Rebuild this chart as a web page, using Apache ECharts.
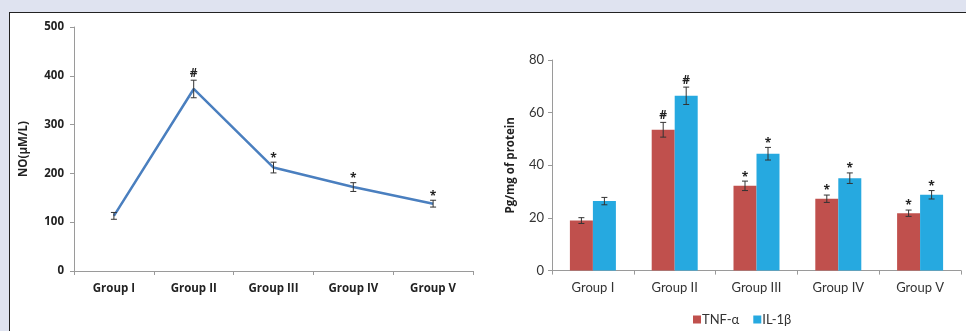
<!DOCTYPE html>
<html><head><meta charset="utf-8">
<script src="https://cdn.jsdelivr.net/npm/echarts@6/dist/echarts.min.js"></script>
<style>
html,body{margin:0;padding:0;width:966px;height:331px;overflow:hidden;background:#dfe3f0;}
#box{position:absolute;left:9px;top:12px;width:980px;height:340px;background:#fff;border:1.5px solid #222;}
#c{position:absolute;left:0;top:0;width:966px;height:331px;}
</style></head><body>
<div id="box"></div><div id="c"></div>
<script>
const categories = ['Group I','Group II','Group III','Group IV','Group V'];
const noValues = [113, 373, 212, 172, 138];
const noErrors = [7, 18, 11, 9, 7];
const noMarks = ['', '#', '*', '*', '*'];
const tnfValues = [19.0, 53.5, 32.2, 27.3, 21.8];
const tnfErrors = [1.1, 2.8, 1.8, 1.4, 1.2];
const tnfMarks = ['', '#', '*', '*', '*'];
const ilValues = [26.4, 66.4, 44.4, 35.1, 28.8];
const ilErrors = [1.4, 3.3, 2.4, 2.0, 1.6];
const ilMarks = ['', '#', '*', '*', '*'];
const leftTicks = [0, 100, 200, 300, 400, 500];
const rightTicks = [0, 20, 40, 60, 80];

const BAR_W = 23;
function errSeries(name, xi, yi, vals, errs, marks, offset, z) {
  return {
    type: 'custom', name: name, xAxisIndex: xi, yAxisIndex: yi, z: z || 5,
    data: vals.map((v, i) => [i, v, errs[i]]),
    renderItem: function (params, api) {
      const i = api.value(0), v = api.value(1), e = api.value(2);
      const mark = marks[i];
      const top = api.coord([i, v + e]);
      const bot = api.coord([i, v - e]);
      const x = top[0] + offset;
      const cap = 3;
      const st = { stroke: '#333', lineWidth: 1 };
      const children = [
        { type: 'line', shape: { x1: x, y1: top[1], x2: x, y2: bot[1] }, style: st },
        { type: 'line', shape: { x1: x - cap, y1: top[1], x2: x + cap, y2: top[1] }, style: st },
        { type: 'line', shape: { x1: x - cap, y1: bot[1], x2: x + cap, y2: bot[1] }, style: st }
      ];
      if (mark) {
        children.push({ type: 'text', style: { text: mark, x: x, y: top[1] - (mark === '*' ? -2 : 1), align: 'center', verticalAlign: 'bottom', fill: '#222', font: 'bold 12px "Open Sans"' } });
      }
      return { type: 'group', children: children };
    }
  };
}

const chart = echarts.init(document.getElementById('c'), null, { renderer: 'canvas' });
const axisLine = { show: true, lineStyle: { color: '#9a9a9a', width: 1 } };
chart.setOption({
  animation: false,
  backgroundColor: 'transparent',
  grid: [
    { left: 74, top: 27, width: 399, height: 244 },
    { left: 552, top: 60, width: 409, height: 210.6 }
  ],
  legend: {
    left: 688, top: 308, itemWidth: 8, itemHeight: 8, itemGap: 14,
    icon: 'rect',
    data: ['TNF-α', 'IL-1β'],
    textStyle: { fontFamily: 'Lato', fontSize: 13, color: '#333', padding: [0, 0, 0, -4] }
  },
  xAxis: [
    { type: 'category', gridIndex: 0, data: categories, boundaryGap: true,
      axisLine: axisLine, axisTick: { show: true, length: 4, inside: false, lineStyle: { color: '#9a9a9a' } },
      axisLabel: { margin: 12, fontFamily: 'Open Sans', fontWeight: 'bold', fontSize: 11.5, color: '#222' } },
    { type: 'category', gridIndex: 1, data: categories, boundaryGap: true,
      axisLine: axisLine, axisTick: { show: true, length: 4, lineStyle: { color: '#9a9a9a' } },
      axisLabel: { margin: 11, fontFamily: 'Lato', fontSize: 13, color: '#333' } }
  ],
  yAxis: [
    { type: 'value', gridIndex: 0, min: leftTicks[0], max: leftTicks[leftTicks.length - 1], interval: 100,
      axisLine: axisLine, axisTick: { show: true, length: 4, lineStyle: { color: '#9a9a9a' } }, splitLine: { show: false },
      axisLabel: { margin: 10, fontFamily: 'Open Sans', fontWeight: 'bold', fontSize: 11.5, color: '#222' },
      name: 'NO(μM/L)', nameLocation: 'middle', nameGap: 44, nameRotate: 90,
      nameTextStyle: { fontFamily: 'Open Sans', fontWeight: 'bold', fontSize: 11.5, color: '#222' } },
    { type: 'value', gridIndex: 1, min: rightTicks[0], max: rightTicks[rightTicks.length - 1], interval: 20,
      axisLine: axisLine, axisTick: { show: true, length: 4, lineStyle: { color: '#9a9a9a' } }, splitLine: { show: false },
      axisLabel: { margin: 8, fontFamily: 'Lato', fontSize: 13, color: '#333' },
      name: 'Pg/mg of protein', nameLocation: 'middle', nameGap: 35, nameRotate: 90,
      nameTextStyle: { fontFamily: 'Open Sans', fontWeight: 'bold', fontSize: 11.5, color: '#222' } }
  ],
  series: [
    { type: 'line', name: 'NO', xAxisIndex: 0, yAxisIndex: 0, data: noValues, symbol: 'none',
      lineStyle: { color: '#4a7fbf', width: 2.5 }, z: 3 },
    errSeries('noErr', 0, 0, noValues, noErrors, noMarks, 0, 6),
    { type: 'bar', name: 'TNF-α', xAxisIndex: 1, yAxisIndex: 1, data: tnfValues, barWidth: BAR_W, barGap: '0%',
      itemStyle: { color: '#c0504d' } },
    { type: 'bar', name: 'IL-1β', xAxisIndex: 1, yAxisIndex: 1, data: ilValues, barWidth: BAR_W, barGap: '0%',
      itemStyle: { color: '#26a9e0' } },
    errSeries('tnfErr', 1, 1, tnfValues, tnfErrors, tnfMarks, -BAR_W / 2, 6),
    errSeries('ilErr', 1, 1, ilValues, ilErrors, ilMarks, BAR_W / 2, 6)
  ]
});
</script></body></html>
